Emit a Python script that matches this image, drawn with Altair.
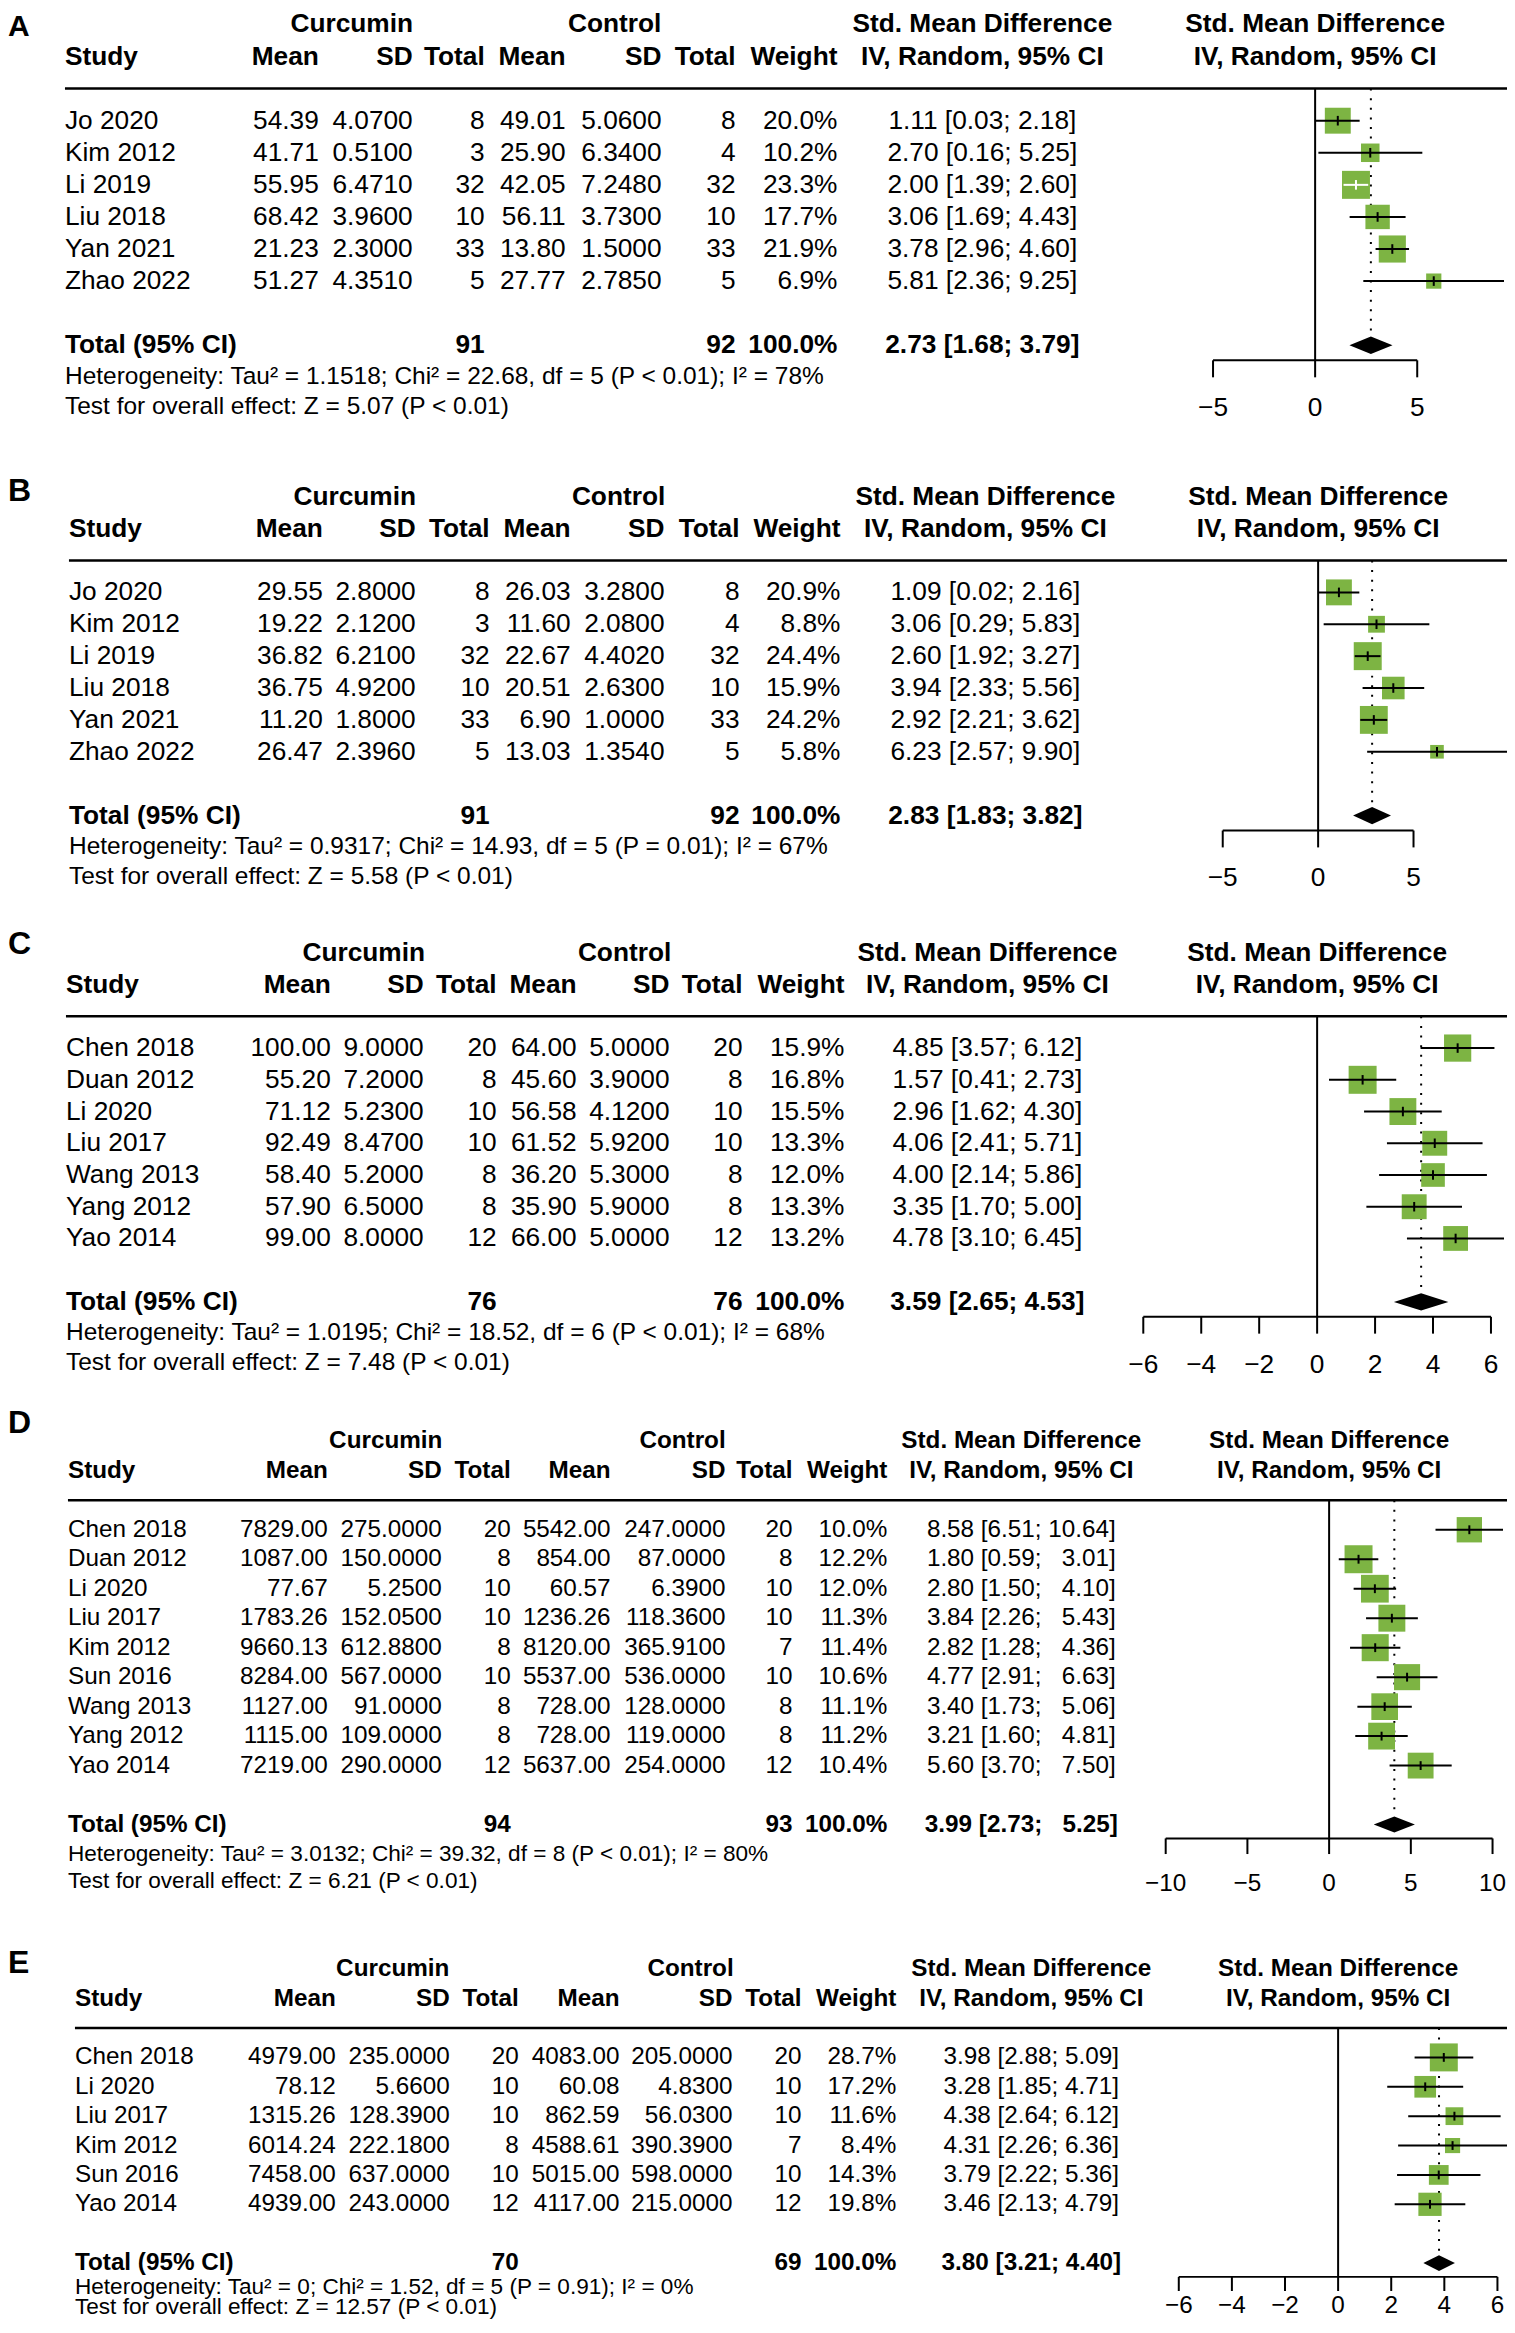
import altair as alt
import pandas as pd

FONT = "Liberation Sans"
GREEN = "#7db443"
W = 1500
H = 2312

# ---------------- Panel A ----------------
A_study = ["Jo 2020", "Kim 2012", "Li 2019", "Liu 2018", "Yan 2021", "Zhao 2022"]
A_c_mean = [54.39, 41.71, 55.95, 68.42, 21.23, 51.27]
A_c_sd = [4.07, 0.51, 6.471, 3.96, 2.30, 4.351]
A_c_n = [8, 3, 32, 10, 33, 5]
A_k_mean = [49.01, 25.90, 42.05, 56.11, 13.80, 27.77]
A_k_sd = [5.06, 6.34, 7.248, 3.73, 1.50, 2.785]
A_k_n = [8, 4, 32, 10, 33, 5]
A_weight = [20.0, 10.2, 23.3, 17.7, 21.9, 6.9]
A_smd = [1.11, 2.70, 2.00, 3.06, 3.78, 5.81]
A_lo = [0.03, 0.16, 1.39, 1.69, 2.96, 2.36]
A_hi = [2.18, 5.25, 2.60, 4.43, 4.60, 9.25]
A_inside = [False, False, True, False, False, False]
A_total = {"c_n": 91, "k_n": 92, "smd": 2.73, "lo": 1.68, "hi": 3.79}
A_het = "Heterogeneity: Tau² = 1.1518; Chi² = 22.68, df = 5 (P < 0.01); I² = 78%"
A_test = "Test for overall effect: Z = 5.07 (P < 0.01)"
A_ticks = [-5, 0, 5]

# ---------------- Panel B ----------------
B_study = ["Jo 2020", "Kim 2012", "Li 2019", "Liu 2018", "Yan 2021", "Zhao 2022"]
B_c_mean = [29.55, 19.22, 36.82, 36.75, 11.20, 26.47]
B_c_sd = [2.80, 2.12, 6.21, 4.92, 1.80, 2.396]
B_c_n = [8, 3, 32, 10, 33, 5]
B_k_mean = [26.03, 11.60, 22.67, 20.51, 6.90, 13.03]
B_k_sd = [3.28, 2.08, 4.402, 2.63, 1.00, 1.354]
B_k_n = [8, 4, 32, 10, 33, 5]
B_weight = [20.9, 8.8, 24.4, 15.9, 24.2, 5.8]
B_smd = [1.09, 3.06, 2.60, 3.94, 2.92, 6.23]
B_lo = [0.02, 0.29, 1.92, 2.33, 2.21, 2.57]
B_hi = [2.16, 5.83, 3.27, 5.56, 3.62, 9.90]
B_inside = [False] * 6
B_total = {"c_n": 91, "k_n": 92, "smd": 2.83, "lo": 1.83, "hi": 3.82}
B_het = "Heterogeneity: Tau² = 0.9317; Chi² = 14.93, df = 5 (P = 0.01); I² = 67%"
B_test = "Test for overall effect: Z = 5.58 (P < 0.01)"
B_ticks = [-5, 0, 5]

# ---------------- Panel C ----------------
C_study = ["Chen 2018", "Duan 2012", "Li 2020", "Liu 2017", "Wang 2013", "Yang 2012", "Yao 2014"]
C_c_mean = [100.00, 55.20, 71.12, 92.49, 58.40, 57.90, 99.00]
C_c_sd = [9.0, 7.2, 5.23, 8.47, 5.2, 6.5, 8.0]
C_c_n = [20, 8, 10, 10, 8, 8, 12]
C_k_mean = [64.00, 45.60, 56.58, 61.52, 36.20, 35.90, 66.00]
C_k_sd = [5.0, 3.9, 4.12, 5.92, 5.3, 5.9, 5.0]
C_k_n = [20, 8, 10, 10, 8, 8, 12]
C_weight = [15.9, 16.8, 15.5, 13.3, 12.0, 13.3, 13.2]
C_smd = [4.85, 1.57, 2.96, 4.06, 4.00, 3.35, 4.78]
C_lo = [3.57, 0.41, 1.62, 2.41, 2.14, 1.70, 3.10]
C_hi = [6.12, 2.73, 4.30, 5.71, 5.86, 5.00, 6.45]
C_inside = [False] * 7
C_total = {"c_n": 76, "k_n": 76, "smd": 3.59, "lo": 2.65, "hi": 4.53}
C_het = "Heterogeneity: Tau² = 1.0195; Chi² = 18.52, df = 6 (P < 0.01); I² = 68%"
C_test = "Test for overall effect: Z = 7.48 (P < 0.01)"
C_ticks = [-6, -4, -2, 0, 2, 4, 6]

# ---------------- Panel D ----------------
D_study = ["Chen 2018", "Duan 2012", "Li 2020", "Liu 2017", "Kim 2012", "Sun 2016",
           "Wang 2013", "Yang 2012", "Yao 2014"]
D_c_mean = [7829.00, 1087.00, 77.67, 1783.26, 9660.13, 8284.00, 1127.00, 1115.00, 7219.00]
D_c_sd = [275.0, 150.0, 5.25, 152.05, 612.88, 567.0, 91.0, 109.0, 290.0]
D_c_n = [20, 8, 10, 10, 8, 10, 8, 8, 12]
D_k_mean = [5542.00, 854.00, 60.57, 1236.26, 8120.00, 5537.00, 728.00, 728.00, 5637.00]
D_k_sd = [247.0, 87.0, 6.39, 118.36, 365.91, 536.0, 128.0, 119.0, 254.0]
D_k_n = [20, 8, 10, 10, 7, 10, 8, 8, 12]
D_weight = [10.0, 12.2, 12.0, 11.3, 11.4, 10.6, 11.1, 11.2, 10.4]
D_smd = [8.58, 1.80, 2.80, 3.84, 2.82, 4.77, 3.40, 3.21, 5.60]
D_lo = [6.51, 0.59, 1.50, 2.26, 1.28, 2.91, 1.73, 1.60, 3.70]
D_hi = [10.64, 3.01, 4.10, 5.43, 4.36, 6.63, 5.06, 4.81, 7.50]
D_inside = [False] * 9
D_total = {"c_n": 94, "k_n": 93, "smd": 3.99, "lo": 2.73, "hi": 5.25}
D_het = "Heterogeneity: Tau² = 3.0132; Chi² = 39.32, df = 8 (P < 0.01); I² = 80%"
D_test = "Test for overall effect: Z = 6.21 (P < 0.01)"
D_ticks = [-10, -5, 0, 5, 10]

# ---------------- Panel E ----------------
E_study = ["Chen 2018", "Li 2020", "Liu 2017", "Kim 2012", "Sun 2016", "Yao 2014"]
E_c_mean = [4979.00, 78.12, 1315.26, 6014.24, 7458.00, 4939.00]
E_c_sd = [235.0, 5.66, 128.39, 222.18, 637.0, 243.0]
E_c_n = [20, 10, 10, 8, 10, 12]
E_k_mean = [4083.00, 60.08, 862.59, 4588.61, 5015.00, 4117.00]
E_k_sd = [205.0, 4.83, 56.03, 390.39, 598.0, 215.0]
E_k_n = [20, 10, 10, 7, 10, 12]
E_weight = [28.7, 17.2, 11.6, 8.4, 14.3, 19.8]
E_smd = [3.98, 3.28, 4.38, 4.31, 3.79, 3.46]
E_lo = [2.88, 1.85, 2.64, 2.26, 2.22, 2.13]
E_hi = [5.09, 4.71, 6.12, 6.36, 5.36, 4.79]
E_inside = [False] * 6
E_total = {"c_n": 70, "k_n": 69, "smd": 3.80, "lo": 3.21, "hi": 4.40}
E_het = "Heterogeneity: Tau² = 0; Chi² = 1.52, df = 5 (P = 0.91); I² = 0%"
E_test = "Test for overall effect: Z = 12.57 (P < 0.01)"
E_ticks = [-6, -4, -2, 0, 2, 4, 6]

# ---------------- layout (pixel geometry, page coordinates) ----------------
GA = dict(y1=120, s=32.1, fs=26.3, fh=24.5, letter_row=-1.93, letter_size=30,
          het_row=1.0, test_row=1.93, label_row=1.97, tick_end=1.0,
          cols=dict(study=65, c_mean=319, c_sd=413, c_n=485, k_mean=566, k_sd=662,
                    k_n=736, weight=838, ci=983, cur=352, con=615), cx=1316, hw=189)
GB = dict(y1=592, s=31.9, fs=26.3, fh=24.5, letter_row=-2.17, letter_size=32,
          het_row=1.0, test_row=1.93, label_row=1.97, tick_end=1.0,
          cols=dict(study=69, c_mean=323, c_sd=416, c_n=490, k_mean=571, k_sd=665,
                    k_n=740, weight=841, ci=986, cur=355, con=619), cx=1319, hw=189)
GC = dict(y1=1048, s=31.75, fs=26.3, fh=24.5, letter_row=-2.28, letter_size=32,
          het_row=0.97, test_row=1.93, label_row=2.0, tick_end=1.0,
          cols=dict(study=66, c_mean=331, c_sd=424, c_n=497, k_mean=577, k_sd=670,
                    k_n=743, weight=845, ci=988, cur=364, con=625), cx=1318, hw=187)
GD = dict(y1=1530, s=29.5, fs=24.3, fh=22.6, letter_row=-2.63, letter_size=32,
          het_row=1.0, test_row=1.93, label_row=2.0, tick_end=1.0,
          cols=dict(study=68, c_mean=328, c_sd=442, c_n=511, k_mean=611, k_sd=726,
                    k_n=793, weight=888, ci=1022, cur=386, con=683), cx=1330, hw=174)
GE = dict(y1=2058, s=29.4, fs=24.3, fh=22.6, letter_row=-2.2, letter_size=32,
          het_row=0.8, test_row=1.48, label_row=1.46, tick_end=0.95,
          cols=dict(study=75, c_mean=336, c_sd=450, c_n=519, k_mean=620, k_sd=733,
                    k_n=802, weight=897, ci=1032, cur=393, con=691), cx=1339, hw=169)

FS = "\u2007"  # figure space for digit alignment
OFF = 8        # page margin


def ci_strings(smd, lo, hi, total):
    los = [f"{v:.2f}" for v in lo + [total["lo"]]]
    his = [f"{v:.2f}" for v in hi + [total["hi"]]]
    wl = max(len(s) for s in los)
    wh = max(len(s) for s in his)
    es = smd + [total["smd"]]
    out = []
    for e, l, h in zip(es, los, his):
        out.append(f"{e:.2f} [{l.rjust(wl).replace(' ', FS)}; {h.rjust(wh).replace(' ', FS)}]")
    return out[:-1], out[-1]


def build(letter, P, G):
    k = len(P["study"])
    rows = list(range(1, k + 1))
    tot = k + 2
    ys = alt.Scale(domain=[1, tot],
                   range=[G["y1"] - OFF, G["y1"] - OFF + (tot - 1) * G["s"]],
                   nice=False, zero=False)
    m = max(max(abs(v) for v in P["lo"]), max(abs(v) for v in P["hi"]))
    xs = alt.Scale(domain=[-m, m], range=[G["cx"] - G["hw"] - OFF, G["cx"] + G["hw"] - OFF],
                   nice=False, zero=False)
    fs, fh = G["fs"], G["fh"]
    C = G["cols"]

    def Y(f):
        return alt.Y(f, scale=ys, axis=None)

    def X(f):
        return alt.X(f, scale=xs, axis=None)

    def T(labels, rws, xpos, align, size, bold=False):
        df = pd.DataFrame({"label": labels, "row": rws})
        return alt.Chart(df).mark_text(
            align=align, baseline="middle", font=FONT, fontSize=size,
            fontWeight="bold" if bold else "normal", color="black"
        ).encode(x=alt.value(xpos - OFF), y=Y("row:Q"), text=alt.Text("label:N"))

    layers = []
    # header rule
    layers.append(alt.Chart(pd.DataFrame({"row": [0]})).mark_rule(
        color="black", strokeWidth=2.5).encode(
        x=alt.value(C["study"] - OFF), x2=alt.value(W), y=Y("row:Q")))

    # forest: zero line
    layers.append(alt.Chart(pd.DataFrame({"x": [0], "r0": [0], "r1": [tot + 0.47]})).mark_rule(
        color="black", strokeWidth=2).encode(x=X("x:Q"), y=Y("r0:Q"), y2=alt.Y2("r1")))
    # dotted pooled estimate line
    layers.append(alt.Chart(pd.DataFrame({"x": [P["total"]["smd"]], "r0": [0], "r1": [tot - 0.27]})).mark_rule(
        color="black", strokeWidth=2, strokeDash=[2, 7.6]).encode(
        x=X("x:Q"), y=Y("r0:Q"), y2=alt.Y2("r1")))

    fd = pd.DataFrame({"row": rows, "smd": P["smd"], "lo": P["lo"], "hi": P["hi"],
                       "weight": P["weight"], "inside": P["inside"]})
    wmax = max(P["weight"])
    layers.append(alt.Chart(fd).mark_square(filled=True, color=GREEN, opacity=1).encode(
        x=X("smd:Q"), y=Y("row:Q"),
        size=alt.Size("weight:Q", scale=alt.Scale(domain=[0, wmax], range=[0, 28 * 28]), legend=None)))
    col_cond = alt.condition("datum.inside", alt.value("white"), alt.value("black"))
    layers.append(alt.Chart(fd).mark_rule(strokeWidth=2).encode(
        x=X("lo:Q"), x2=alt.X2("hi"), y=Y("row:Q"), color=col_cond))
    layers.append(alt.Chart(fd).transform_calculate(
        ya="datum.row - 0.15", yb="datum.row + 0.15").mark_rule(strokeWidth=2).encode(
        x=X("smd:Q"), y=Y("ya:Q"), y2=alt.Y2("yb"), color=col_cond))

    # diamond
    dia = pd.DataFrame({"x": [P["total"]["lo"], P["total"]["smd"], P["total"]["hi"]], "h": [0, 1, 0]})
    layers.append(alt.Chart(dia).transform_calculate(
        yt=f"{tot} - 0.27 * datum.h", yb=f"{tot} + 0.27 * datum.h").mark_area(
        color="black", orient="vertical", interpolate="linear").encode(
        x=X("x:Q"), y=Y("yt:Q"), y2=alt.Y2("yb")))

    # axis
    ticks = P["ticks"]
    layers.append(alt.Chart(pd.DataFrame({"a": [min(ticks)], "b": [max(ticks)], "row": [tot + 0.47]})).mark_rule(
        color="black", strokeWidth=2).encode(x=X("a:Q"), x2=alt.X2("b"), y=Y("row:Q")))
    layers.append(alt.Chart(pd.DataFrame({"t": ticks, "r0": [tot + 0.47] * len(ticks),
                                          "r1": [tot + G["tick_end"]] * len(ticks)})).mark_rule(
        color="black", strokeWidth=2).encode(x=X("t:Q"), y=Y("r0:Q"), y2=alt.Y2("r1")))
    layers.append(alt.Chart(pd.DataFrame({"t": ticks, "row": [tot + G["label_row"]] * len(ticks),
                                          "label": [str(t).replace("-", "\u2212") for t in ticks]})).mark_text(
        align="center", baseline="middle", font=FONT, fontSize=fs, color="black").encode(
        x=X("t:Q"), y=Y("row:Q"), text=alt.Text("label:N")))

    # table text
    ci_rows, ci_tot = ci_strings(P["smd"], P["lo"], P["hi"], P["total"])
    layers.append(T([letter], [G["letter_row"]], OFF, "left", G["letter_size"], True))
    layers.append(T(P["study"], rows, C["study"], "left", fs))
    layers.append(T(["Study", "Total (95% CI)"], [-1, tot], C["study"], "left", fs, True))
    layers.append(T(["Curcumin"], [-2], C["cur"], "center", fs, True))
    layers.append(T(["Control"], [-2], C["con"], "center", fs, True))
    layers.append(T([f"{v:.2f}" for v in P["c_mean"]], rows, C["c_mean"], "right", fs))
    layers.append(T(["Mean"], [-1], C["c_mean"], "right", fs, True))
    layers.append(T([f"{v:.4f}" for v in P["c_sd"]], rows, C["c_sd"], "right", fs))
    layers.append(T(["SD"], [-1], C["c_sd"], "right", fs, True))
    layers.append(T([str(v) for v in P["c_n"]], rows, C["c_n"], "right", fs))
    layers.append(T(["Total", str(P["total"]["c_n"])], [-1, tot], C["c_n"], "right", fs, True))
    layers.append(T([f"{v:.2f}" for v in P["k_mean"]], rows, C["k_mean"], "right", fs))
    layers.append(T(["Mean"], [-1], C["k_mean"], "right", fs, True))
    layers.append(T([f"{v:.4f}" for v in P["k_sd"]], rows, C["k_sd"], "right", fs))
    layers.append(T(["SD"], [-1], C["k_sd"], "right", fs, True))
    layers.append(T([str(v) for v in P["k_n"]], rows, C["k_n"], "right", fs))
    layers.append(T(["Total", str(P["total"]["k_n"])], [-1, tot], C["k_n"], "right", fs, True))
    layers.append(T([f"{v:.1f}%" for v in P["weight"]], rows, C["weight"], "right", fs))
    layers.append(T(["Weight", "100.0%"], [-1, tot], C["weight"], "right", fs, True))
    layers.append(T(ci_rows, rows, C["ci"], "center", fs))
    layers.append(T(["Std. Mean Difference", "IV, Random, 95% CI", ci_tot], [-2, -1, tot],
                    C["ci"], "center", fs, True))
    layers.append(T(["Std. Mean Difference", "IV, Random, 95% CI"], [-2, -1], G["cx"], "center", fs, True))
    layers.append(T([P["het"], P["test"]], [tot + G["het_row"], tot + G["test_row"]],
                    C["study"], "left", fh))

    return alt.layer(*layers)


def pack(prefix):
    g = globals()
    keys = ["study", "c_mean", "c_sd", "c_n", "k_mean", "k_sd", "k_n", "weight",
            "smd", "lo", "hi", "inside", "total", "het", "test", "ticks"]
    return {kk: g[f"{prefix}_{kk}"] for kk in keys}


panels = [
    build("A", pack("A"), GA),
    build("B", pack("B"), GB),
    build("C", pack("C"), GC),
    build("D", pack("D"), GD),
    build("E", pack("E"), GE),
]

chart = alt.layer(*panels).resolve_scale(
    x="independent", y="independent", size="independent"
).properties(
    width=W, height=H, padding=0, background="white",
    autosize=alt.AutoSizeParams(type="none", contains="padding"),
).configure(padding=0).configure_view(stroke=None)

chart.save("out.html", embed_options={"renderer": "svg", "actions": False})
